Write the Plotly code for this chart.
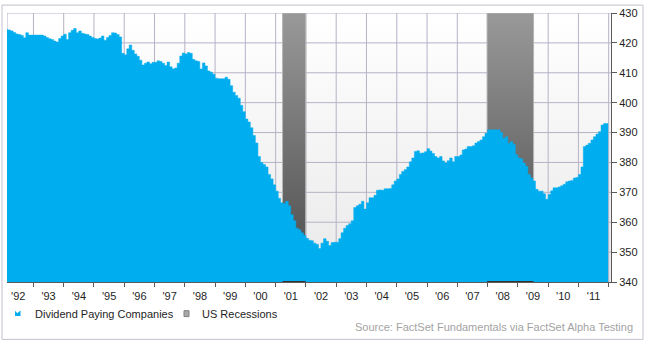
import plotly.graph_objects as go
import pandas as pd

# Number of dividend paying companies, monthly, Feb 1992 - Dec 2011
div_1992 = [424.5, 424.3, 424.0, 423.5, 423.0, 422.8, 422.5, 421.7, 423.4, 422.6, 422.6]
div_1993 = [422.6, 422.6, 422.6, 422.6, 422.3, 421.8, 421.4, 421.1, 420.6, 420.3, 421.5, 422.3]
div_1994 = [422.9, 421.1, 423.4, 424.2, 424.8, 423.4, 424.0, 423.2, 423.0, 422.8, 422.3, 421.8]
div_1995 = [421.5, 421.3, 421.6, 422.3, 420.9, 421.8, 422.5, 423.4, 423.3, 422.8, 422.0, 416.5]
div_1996 = [416.0, 418.0, 419.3, 417.5, 416.3, 415.5, 414.2, 412.6, 413.2, 413.6, 413.0, 413.5]
div_1997 = [413.5, 414.0, 413.8, 413.2, 412.4, 413.6, 412.0, 411.3, 411.6, 413.2, 415.6, 416.6]
div_1998 = [416.3, 416.8, 416.5, 414.5, 414.0, 413.8, 411.3, 413.3, 412.3, 410.6, 410.2, 409.5]
div_1999 = [408.2, 408.0, 408.0, 408.0, 408.5, 407.8, 405.7, 403.5, 402.4, 401.5, 399.1, 397.0]
div_2000 = [394.5, 393.5, 391.6, 389.0, 386.5, 382.0, 380.0, 379.3, 378.5, 376.0, 374.5, 372.5]
div_2001 = [370.4, 368.0, 366.5, 366.3, 367.0, 365.5, 362.5, 360.5, 358.0, 357.5, 356.5, 355.6]
div_2002 = [354.6, 354.0, 353.8, 353.0, 352.6, 351.2, 353.0, 354.5, 353.6, 352.2, 353.2, 353.3]
div_2003 = [353.3, 354.5, 356.5, 358.0, 358.9, 359.5, 360.5, 364.9, 365.5, 366.0, 367.0, 364.4]
div_2004 = [366.5, 368.2, 368.2, 369.0, 370.7, 370.8, 370.7, 371.2, 371.2, 371.3, 372.5, 373.8]
div_2005 = [374.5, 376.0, 377.0, 377.6, 378.5, 380.2, 381.5, 383.7, 383.9, 383.1, 383.2, 383.6]
div_2006 = [384.6, 383.8, 383.0, 382.0, 381.5, 382.0, 380.5, 379.8, 380.6, 381.5, 380.2, 382.0]
div_2007 = [382.0, 382.5, 384.2, 384.5, 385.3, 385.3, 385.6, 386.5, 387.0, 387.5, 388.6, 389.8]
div_2008 = [390.9, 390.9, 390.9, 390.9, 390.9, 390.0, 388.1, 388.6, 386.4, 387.0, 386.0, 382.6]
div_2009 = [381.5, 381.2, 379.8, 378.7, 376.0, 374.8, 373.8, 371.0, 370.4, 370.4, 369.5, 367.7]
div_2010 = [369.3, 370.5, 371.5, 371.5, 371.8, 372.2, 372.7, 373.5, 373.8, 374.0, 374.8, 375.0]
div_2011 = [376.0, 378.5, 385.3, 385.8, 386.4, 387.5, 388.6, 389.5, 390.3, 392.5, 393.0, 393.0]

dividend_counts = (div_1992 + div_1993 + div_1994 + div_1995 + div_1996 + div_1997
                   + div_1998 + div_1999 + div_2000 + div_2001 + div_2002 + div_2003
                   + div_2004 + div_2005 + div_2006 + div_2007 + div_2008 + div_2009
                   + div_2010 + div_2011)
series_end = "2011-12-26"

# US recessions (NBER)
rec_start = ["2001-03-25", "2007-12-26"]
rec_end = ["2001-12-29", "2009-07-09"]

y_ticks = [340, 350, 360, 370, 380, 390, 400, 410, 420, 430]
year_starts = [f"{y}-01-01" for y in range(1993, 2013)]
x_range = ["1992-02-17", "2012-01-29"]

dates = list(pd.date_range("1992-02-01", periods=len(dividend_counts), freq="MS"))
dates.append(pd.Timestamp(series_end))
values = dividend_counts + [dividend_counts[-1]]

W, H = 648, 343
ML, MR, MT, MB = 7, 37, 10, 61
PW, PH = W - ML - MR, H - MT - MB

def px(xp):
    return (xp - ML) / PW

def py(yp):
    return (H - MB - yp) / PH

FONT = "Liberation Sans, Arial, sans-serif"
BLUE = "#00AEEF"
GRID = "#b6b2c6"
AXIS = "#5a5a5a"
y_lo, y_hi = y_ticks[0], y_ticks[-1]
x_lo, x_hi = x_range

fig = go.Figure()

# plot background: white at the top fading to light grey
fig.add_trace(go.Scatter(
    x=[x_lo, x_lo, x_hi, x_hi, x_lo], y=[y_lo, y_hi, y_hi, y_lo, y_lo],
    mode="lines", fill="toself", line=dict(width=0),
    fillgradient=dict(type="vertical", colorscale=[[0, "#e9e9e9"], [1, "#ffffff"]]),
    hoverinfo="skip", showlegend=False,
))

# grid lines
gx, gy = [], []
for d in year_starts:
    gx += [d, d, None]
    gy += [y_lo, y_hi, None]
for v in y_ticks[1:]:
    gx += [x_lo, x_hi, None]
    gy += [v, v, None]
gx += [x_lo, x_lo]
gy += [y_lo, y_hi]
fig.add_trace(go.Scatter(
    x=gx, y=gy, mode="lines", line=dict(color=GRID, width=1),
    hoverinfo="skip", showlegend=False,
))

# recession bands with a vertical grey gradient
for s, e in zip(rec_start, rec_end):
    fig.add_trace(go.Scatter(
        x=[s, s, e, e, s], y=[y_lo, y_hi, y_hi, y_lo, y_lo],
        mode="lines", fill="toself",
        fillgradient=dict(type="vertical", colorscale=[[0, "#4a4a4a"], [1, "#999999"]]),
        line=dict(color="#b5b5b5", width=1),
        hoverinfo="skip", showlegend=False,
    ))

# dividend paying companies area
fig.add_trace(go.Scatter(
    x=dates, y=values, mode="lines", line=dict(color=BLUE, width=0.5, shape="hv"),
    fill="tozeroy", fillcolor=BLUE, hoverinfo="skip", showlegend=False,
))

# dark base line under each recession band
for s, e in zip(rec_start, rec_end):
    fig.add_trace(go.Scatter(
        x=[s, e], y=[y_lo, y_lo], mode="lines",
        line=dict(color="#333333", width=2), hoverinfo="skip", showlegend=False,
    ))

shapes = [
    # outer frame
    dict(type="rect", xref="paper", yref="paper",
         x0=px(2), x1=px(643), y0=py(340), y1=py(2),
         line=dict(color="#c3c0cc", width=1), fillcolor="rgba(0,0,0,0)"),
    # legend glyphs
    dict(type="path", xref="paper", yref="paper",
         path=(f"M{px(15)},{py(316.5)} L{px(15)},{py(311)} L{px(17.3)},{py(313.5)} "
               f"L{px(19.5)},{py(311.5)} L{px(20.5)},{py(311)} L{px(20.5)},{py(316.5)} Z"),
         fillcolor=BLUE, line=dict(width=0)),
    dict(type="rect", xref="paper", yref="paper",
         x0=px(184), x1=px(189), y0=py(317), y1=py(311),
         fillcolor="#a8a8a8", line=dict(color="#808080", width=1)),
]

annotations = [
    dict(text="Dividend Paying Companies", xref="paper", yref="paper", x=px(33), y=py(314),
         xanchor="left", yanchor="middle", showarrow=False,
         font=dict(family=FONT, size=11, color="#1e1e1e")),
    dict(text="US Recessions", xref="paper", yref="paper", x=px(200), y=py(314),
         xanchor="left", yanchor="middle", showarrow=False,
         font=dict(family=FONT, size=11, color="#1e1e1e")),
    dict(text="Source: FactSet Fundamentals via FactSet Alpha Testing", xref="paper", yref="paper",
         x=px(635), y=py(327), xanchor="right", yanchor="middle", showarrow=False,
         font=dict(family=FONT, size=11, color="#a3a3a3")),
]

fig.update_layout(
    width=W, height=H,
    margin=dict(l=ML, r=MR, t=MT, b=MB, pad=0),
    paper_bgcolor="white", plot_bgcolor="white",
    showlegend=False,
    shapes=shapes, annotations=annotations,
    font=dict(family=FONT, size=11, color="#1e1e1e"),
    xaxis=dict(
        type="date", range=x_range,
        tick0="1992-01-01", dtick="M12", tickformat="'%y", ticklabelmode="period",
        showgrid=False,
        showline=True, linecolor=AXIS, linewidth=1,
        ticks="outside", ticklen=4, tickcolor=AXIS,
        tickfont=dict(family=FONT, size=11, color="#1e1e1e"),
        zeroline=False, fixedrange=True,
    ),
    yaxis=dict(
        side="right", range=[y_lo, y_hi], tickvals=y_ticks,
        showgrid=False,
        showline=True, linecolor=AXIS, linewidth=1,
        ticks="outside", ticklen=5, tickcolor=AXIS,
        tickfont=dict(family=FONT, size=11, color="#1e1e1e"),
        zeroline=False, fixedrange=True,
    ),
)

fig.write_html("out.html")
